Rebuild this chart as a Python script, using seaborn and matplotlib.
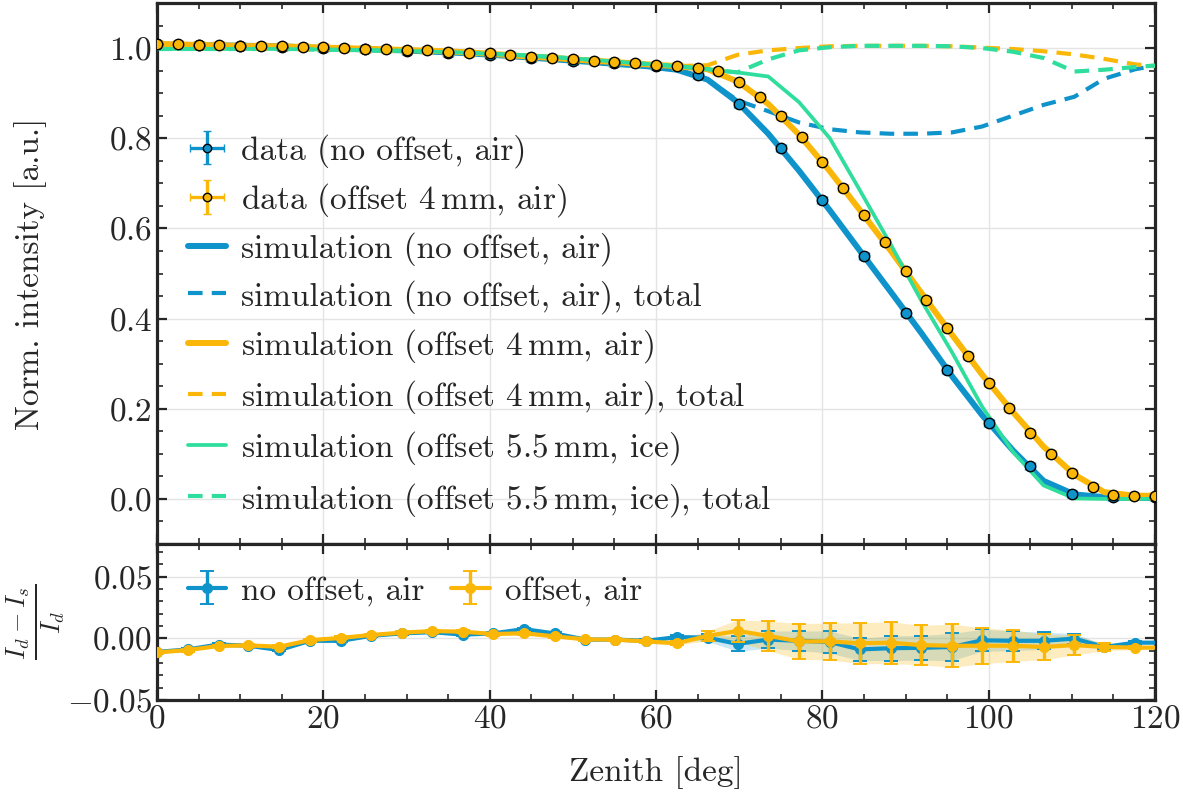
import numpy as np
import pandas as pd
import matplotlib
matplotlib.use("Agg")
import matplotlib.pyplot as plt
import seaborn as sns
from matplotlib.ticker import MultipleLocator

# ---------------- data ----------------
# measured data, orange (offset 4 mm, air): every 2.5 deg
x_data_off = [0, 2.5, 5, 7.5, 10, 12.5, 15, 17.5, 20, 22.5, 25, 27.5, 30, 32.5, 35, 37.5,
              40, 42.5, 45, 47.5, 50, 52.5, 55, 57.5, 60, 62.5, 65, 67.5, 70, 72.5, 75,
              77.5, 80, 82.5, 85, 87.5, 90, 92.5, 95, 97.5, 100, 102.5, 105, 107.5, 110,
              112.5, 115, 117.5, 120]
y_data_off = [1.010, 1.0085, 1.007, 1.006, 1.005, 1.0047, 1.004, 1.003, 1.0015, 1.000,
              0.998, 0.997, 0.996, 0.995, 0.992, 0.990, 0.988, 0.985, 0.981, 0.978,
              0.975, 0.972, 0.969, 0.966, 0.963, 0.960, 0.956, 0.949, 0.924, 0.891,
              0.850, 0.803, 0.748, 0.689, 0.630, 0.569, 0.506, 0.442, 0.379, 0.318,
              0.258, 0.201, 0.147, 0.100, 0.058, 0.026, 0.009, 0.007, 0.007]
# measured data, blue (no offset, air): every 5 deg
x_data_no = [0, 5, 10, 15, 20, 25, 30, 35, 40, 45, 50, 55, 60, 65, 70, 75, 80, 85, 90,
             95, 100, 105, 110, 115, 120]
y_data_no = [1.009, 1.006, 1.004, 1.003, 1.000, 0.997, 0.994, 0.989, 0.984, 0.978,
             0.972, 0.966, 0.960, 0.940, 0.875, 0.778, 0.662, 0.539, 0.413, 0.285,
             0.169, 0.072, 0.011, 0.005, 0.004]

# simulation grid
x_sim = [0, 3.7, 7.4, 11.0, 14.7, 18.4, 22.1, 25.7, 29.4, 33.1, 36.8, 40.4, 44.1, 47.8,
         51.5, 55.1, 58.8, 62.5, 66.2, 69.8, 73.5, 77.2, 80.9, 84.5, 88.2, 91.9, 95.6,
         99.2, 102.9, 106.6, 110.3, 113.9, 117.6, 121.3]
sim_no = [1.008, 1.007, 1.006, 1.005, 1.004, 1.001, 0.999, 0.997, 0.995, 0.992, 0.989,
          0.985, 0.980, 0.975, 0.970, 0.965, 0.960, 0.952, 0.930, 0.880, 0.810, 0.728,
          0.640, 0.551, 0.460, 0.368, 0.272, 0.186, 0.108, 0.040, 0.010, 0.004, 0.002,
          0.002]
sim_no_total = [1.008, 1.007, 1.006, 1.005, 1.004, 1.001, 0.999, 0.997, 0.995, 0.992,
                0.989, 0.985, 0.980, 0.975, 0.970, 0.965, 0.960, 0.952, 0.930, 0.884,
                0.860, 0.835, 0.820, 0.813, 0.810, 0.810, 0.813, 0.826, 0.850, 0.874,
                0.892, 0.932, 0.953, 0.965]
sim_off = [1.009, 1.0075, 1.006, 1.0045, 1.004, 1.002, 1.000, 0.998, 0.996, 0.994,
           0.991, 0.987, 0.982, 0.978, 0.973, 0.969, 0.964, 0.960, 0.953, 0.926, 0.876,
           0.808, 0.727, 0.641, 0.551, 0.457, 0.364, 0.276, 0.193, 0.116, 0.054, 0.015,
           0.007, 0.007]
sim_off_total = [1.009, 1.0075, 1.006, 1.0045, 1.004, 1.002, 1.000, 0.998, 0.996, 0.994,
                 0.991, 0.987, 0.982, 0.978, 0.973, 0.969, 0.964, 0.960, 0.962, 0.985,
                 0.995, 1.000, 1.004, 1.005, 1.005, 1.005, 1.004, 1.001, 0.998, 0.993,
                 0.986, 0.976, 0.964, 0.958]
sim_ice = [0.998, 0.998, 0.998, 0.998, 0.998, 0.997, 0.996, 0.995, 0.994, 0.992, 0.990,
           0.987, 0.984, 0.980, 0.975, 0.970, 0.965, 0.960, 0.953, 0.946, 0.937, 0.880,
           0.800, 0.685, 0.565, 0.440, 0.325, 0.205, 0.105, 0.030, 0.001, 0.0, 0.0, 0.0]
sim_ice_total = [0.998, 0.998, 0.998, 0.998, 0.998, 0.997, 0.996, 0.995, 0.994, 0.992,
                 0.990, 0.987, 0.984, 0.980, 0.975, 0.970, 0.965, 0.960, 0.953, 0.946,
                 0.975, 0.995, 1.002, 1.005, 1.005, 1.005, 1.004, 1.000, 0.992, 0.978,
                 0.948, 0.952, 0.958, 0.963]

# residuals (I_d - I_s)/I_d on the simulation grid
res_no = [-0.011, -0.009, -0.005, -0.006, -0.0095, -0.002, -0.002, 0.002, 0.004, 0.005,
          0.003, 0.004, 0.0075, 0.004, -0.001, -0.001, -0.002, 0.001, 0.0005, -0.0045,
          -0.001, -0.002, -0.003, -0.009, -0.008, -0.0077, -0.007, -0.0016, -0.002,
          -0.002, -0.0002, -0.007, -0.0035, -0.0035]
res_no_err = [0.001, 0.001, 0.001, 0.001, 0.001, 0.001, 0.001, 0.001, 0.001, 0.001,
              0.001, 0.001, 0.001, 0.001, 0.001, 0.001, 0.0012, 0.002, 0.003, 0.006,
              0.007, 0.008, 0.009, 0.009, 0.010, 0.010, 0.011, 0.009, 0.008, 0.007,
              0.004, 0.002, 0.001, 0.001]
res_off = [-0.0114, -0.0095, -0.0062, -0.0057, -0.0068, -0.0014, 0.0003, 0.0027, 0.0046,
           0.0059, 0.0054, 0.0035, 0.0041, 0.0016, -0.0008, -0.0011, -0.0025, -0.004,
           0.002, 0.006, 0.002, -0.0025, -0.0025, -0.004, -0.0035, -0.0055, -0.006,
           -0.006, -0.006, -0.007, -0.0055, -0.007, -0.0075, -0.0075]
res_off_err = [0.0012, 0.0012, 0.0012, 0.0012, 0.0012, 0.0012, 0.0012, 0.0012, 0.0012,
               0.0012, 0.0012, 0.0012, 0.0012, 0.0012, 0.0012, 0.0012, 0.0012, 0.0015,
               0.004, 0.009, 0.012, 0.0145, 0.015, 0.0165, 0.017, 0.016, 0.0175, 0.0146,
               0.0128, 0.0103, 0.008, 0.003, 0.0015, 0.0015]

data_yerr = 0.008
data_xerr = 0.6

# ---------------- style ----------------
sns.set_theme(style="ticks")
FS = 24
plt.rcParams.update({
    "font.family": "serif",
    "font.serif": ["cmr10"],
    "mathtext.fontset": "cm",
    "axes.formatter.use_mathtext": True,
    "axes.unicode_minus": True,
    "font.size": FS,
    "axes.linewidth": 2.3,
    "xtick.direction": "in",
    "ytick.direction": "in",
    "xtick.top": True,
    "ytick.right": True,
    "xtick.major.size": 7,
    "ytick.major.size": 7,
    "xtick.minor.size": 4,
    "ytick.minor.size": 4,
    "xtick.major.width": 1.6,
    "ytick.major.width": 1.6,
    "xtick.minor.width": 1.2,
    "ytick.minor.width": 1.2,
    "xtick.labelsize": FS,
    "ytick.labelsize": FS,
    "axes.labelsize": FS,
})

BLUE = "#0f93cb"
ORANGE = "#fbb707"
GREEN = "#2fdd9c"

W, H = 1183, 796
fig = plt.figure(figsize=(W / 100, H / 100), dpi=100)
ax = fig.add_axes([157 / W, (796 - 544) / H, 998 / W, (544 - 3) / H])
axr = fig.add_axes([157 / W, (796 - 700) / H, 998 / W, (700 - 544) / H], sharex=ax)

for a in (ax, axr):
    a.set_axisbelow(True)
    a.grid(True, color="#e4e4e4", lw=1.0)
    a.xaxis.set_minor_locator(MultipleLocator(5))
    a.xaxis.set_major_locator(MultipleLocator(20))
    a.tick_params(which="both", top=True, right=True, direction="in")

sim_df = pd.DataFrame({
    "x": x_sim, "no": sim_no, "no_total": sim_no_total, "off": sim_off,
    "off_total": sim_off_total, "ice": sim_ice, "ice_total": sim_ice_total,
})

# simulation lines
specs = [
    ("no", BLUE, "-", 4.3, "simulation (no offset, air)", 2),
    ("no_total", BLUE, (0, (3.5, 2.2)), 3.0, "simulation (no offset, air), total", 2),
    ("off", ORANGE, "-", 4.3, r"simulation (offset 4$\,$mm, air)", 3),
    ("off_total", ORANGE, (0, (3.5, 2.2)), 3.0, r"simulation (offset 4$\,$mm, air), total", 3),
    ("ice", GREEN, "-", 2.7, r"simulation (offset 5.5$\,$mm, ice)", 4),
    ("ice_total", GREEN, (0, (3.5, 2.2)), 3.0, r"simulation (offset 5.5$\,$mm, ice), total", 4),
]
sim_handles = []
for col, c, ls, lw, lab, z in specs:
    sns.lineplot(data=sim_df, x="x", y=col, ax=ax, color=c, lw=lw, linestyle=ls,
                 label=lab, zorder=z, sort=False, estimator=None, legend=False)
    sim_handles.append(ax.lines[-1])

# data
h_no = ax.errorbar(x_data_no, y_data_no, yerr=data_yerr, xerr=data_xerr, fmt="o",
                   color=BLUE, mfc=BLUE, mec="black", mew=1.0, ms=7.5, elinewidth=2.4,
                   capsize=3, capthick=1.4, zorder=5, label="data (no offset, air)")
h_off = ax.errorbar(x_data_off, y_data_off, yerr=data_yerr, xerr=data_xerr, fmt="o",
                    color=ORANGE, mfc=ORANGE, mec="black", mew=1.0, ms=7.5,
                    elinewidth=2.4, capsize=3, capthick=1.4, zorder=6,
                    label=r"data (offset 4$\,$mm, air)")

ax.set_xlim(0, 120)
ax.set_ylim(-0.1, 1.1)
ax.yaxis.set_major_locator(MultipleLocator(0.2))
ax.yaxis.set_minor_locator(MultipleLocator(0.05))
ax.set_ylabel("Norm. intensity [a.u.]")
ax.yaxis.set_label_coords(-0.110, 0.5)
plt.setp(ax.get_xticklabels(), visible=False)
ax.set_xlabel("")

handles = [h_no, h_off] + sim_handles
labels = [h.get_label() for h in handles]
ax.legend(handles, labels, loc="lower left", bbox_to_anchor=(0.031, 0.047),
          frameon=False, borderpad=0, borderaxespad=0, handlelength=1.15,
          handletextpad=0.45, labelspacing=0.40, markerscale=0.8, fontsize=FS)

# residual panel
axr.fill_between(x_sim, np.array(res_no) - np.array(res_no_err),
                 np.array(res_no) + np.array(res_no_err), color=BLUE, alpha=0.22,
                 lw=0, zorder=2)
axr.fill_between(x_sim, np.array(res_off) - np.array(res_off_err),
                 np.array(res_off) + np.array(res_off_err), color=ORANGE, alpha=0.25,
                 lw=0, zorder=2)
r_no = axr.errorbar(x_sim, res_no, yerr=res_no_err, fmt="o-", color=BLUE, ms=7,
                    mec=BLUE, lw=3.0, elinewidth=2.4, capsize=5, capthick=1.4,
                    zorder=4, label="no offset, air")
r_off = axr.errorbar(x_sim, res_off, yerr=res_off_err, fmt="o-", color=ORANGE, ms=7,
                     mec=ORANGE, lw=3.0, elinewidth=2.4, capsize=5, capthick=1.4,
                     zorder=5, label="offset, air")
axr.set_ylim(-0.05, 0.0765)
axr.yaxis.set_major_locator(MultipleLocator(0.05))
axr.yaxis.set_minor_locator(MultipleLocator(0.01))
axr.set_xlim(0, 120)
axr.set_xlabel("Zenith [deg]")
axr.xaxis.set_label_coords(0.5, -0.36)
axr.set_ylabel(r"$\frac{I_d - I_s}{I_d}$", fontsize=27)
axr.yaxis.set_label_coords(-0.090, 0.5)
axr.legend([r_no, r_off], ["no offset, air", "offset, air"], loc="center left",
           bbox_to_anchor=(0.031, 0.70), ncol=2, frameon=False, borderpad=0,
           borderaxespad=0, handlelength=1.15, handletextpad=0.45, columnspacing=0.8,
           fontsize=FS)

fig.savefig("out.png", dpi=100)
